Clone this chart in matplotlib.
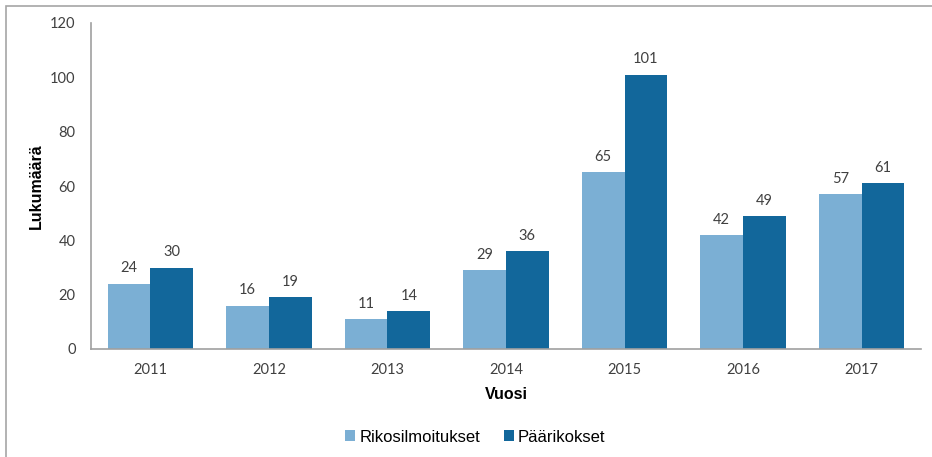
import matplotlib.pyplot as plt
import numpy as np
from matplotlib.patches import Rectangle

years = ["2011", "2012", "2013", "2014", "2015", "2016", "2017"]
rikosilmoitukset = [24, 16, 11, 29, 65, 42, 57]
paarikokset = [30, 19, 14, 36, 101, 49, 61]

light = "#7BAFD4"
dark = "#12679B"
text_col = "#404040"

fig = plt.figure(figsize=(9.32, 4.57), dpi=100)
ax = fig.add_axes([91 / 932, 1 - 349 / 457, (921 - 91) / 932, (349 - 23) / 457])

# grey frame around the chart area (left and top visible)
fig.patches.append(Rectangle((6 / 932, -0.1), 1.0, (457 - 6) / 457 + 0.1,
                             transform=fig.transFigure, fill=False,
                             edgecolor="#A6A6A6", linewidth=1.2))

x = np.arange(len(years))
w = 0.36
b1 = ax.bar(x - w / 2, rikosilmoitukset, w, color=light, label="Rikosilmoitukset")
b2 = ax.bar(x + w / 2, paarikokset, w, color=dark, label="Päärikokset")

for bars in (b1, b2):
    for r in bars:
        ax.annotate(f"{int(r.get_height())}", (r.get_x() + r.get_width() / 2, r.get_height()),
                    xytext=(0, 6), textcoords="offset points", ha="center", va="bottom",
                    fontsize=10.5, color=text_col, family="Lato")

ax.set_xlim(-0.5, len(years) - 0.5)
ax.set_ylim(0, 120)
ax.set_yticks(range(0, 121, 20))
ax.set_xticks(x)
ax.set_xticklabels(years)
ax.tick_params(length=0, labelsize=10.5, colors=text_col)
ax.tick_params(axis="x", pad=10)
ax.tick_params(axis="y", pad=11)
for lab in ax.get_xticklabels() + ax.get_yticklabels():
    lab.set_family("Lato")

for s in ("top", "right"):
    ax.spines[s].set_visible(False)
for s in ("left", "bottom"):
    ax.spines[s].set_color("#A0A0A0")
    ax.spines[s].set_linewidth(1.2)

ax.set_xlabel("Vuosi", fontsize=11.5, fontweight="bold", family="Liberation Sans",
              color="#000000", labelpad=7)
ax.set_ylabel("Lukumäärä", fontsize=11.5, fontweight="bold", family="Liberation Sans",
              color="#000000")
ax.yaxis.set_label_coords(-0.057, 0.5)

ax.legend(loc="center", bbox_to_anchor=(0.463, -0.27), ncol=2, frameon=False,
          prop={"family": "Liberation Sans", "size": 12}, handlelength=0.6,
          handleheight=0.6, handletextpad=0.25, columnspacing=1.4)

fig.savefig("out.png", dpi=100)
